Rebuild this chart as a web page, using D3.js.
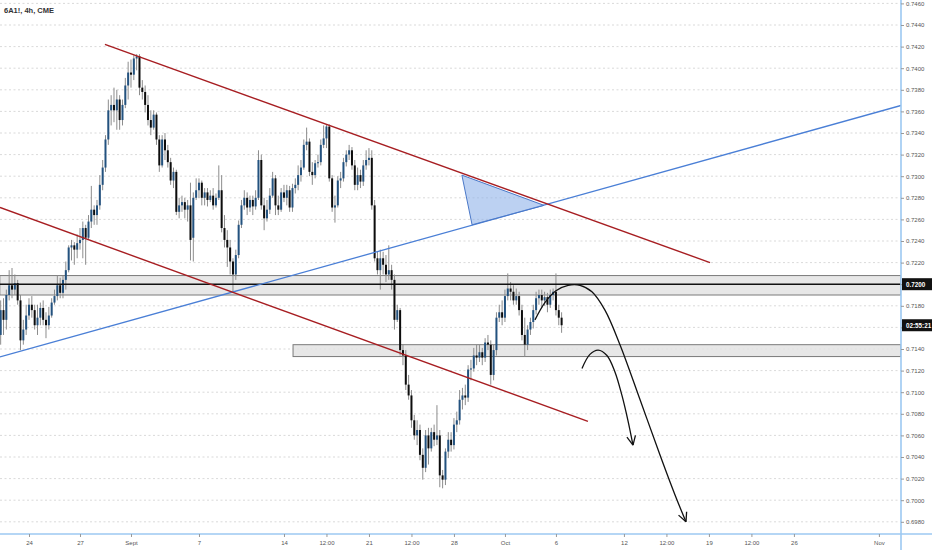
<!DOCTYPE html>
<html><head><meta charset="utf-8">
<script src="https://cdn.jsdelivr.net/npm/d3@7/dist/d3.min.js"></script>
<style>html,body{margin:0;padding:0;background:#fff;}svg{display:block;font-family:"Liberation Sans",Arial,sans-serif;}</style>
</head><body>
<svg id="c" width="932" height="550"></svg>
<script>
// ---------- DATA (4h candles, bar index 0 = first visible bar) ----------
const open = [.7153,.7176,.7167,.7190,.7199,.7195,.7201,.7185,.7148,.7158,.7171,.7181,.7176,.7162,.7169,.7178,.7167,.7162,.7171,.7183,
.7189,.7199,.7192,.7204,.7213,.7234,.7236,.7232,.7238,.7241,.7252,.7243,.7258,.7269,.7264,.7273,.7292,.7308,.7334,.7361,
.7366,.7361,.7371,.7352,.7366,.7384,.7396,.7394,.7409,.7411,.7382,.7378,.7366,.7352,.7345,.7357,.7334,.7310,.7334,.7324,
.7313,.7296,.7304,.7267,.7273,.7276,.7269,.7273,.7243,.7280,.7287,.7294,.7280,.7285,.7278,.7282,.7273,.7280,.7287,.7252,
.7241,.7234,.7221,.7209,.7227,.7255,.7273,.7280,.7271,.7278,.7272,.7280,.7315,.7273,.7261,.7269,.7282,.7298,.7273,.7269,
.7285,.7280,.7287,.7271,.7289,.7292,.7301,.7308,.7329,.7332,.7304,.7301,.7312,.7313,.7329,.7335,.7346,.7298,.7271,.7273,
.7296,.7298,.7313,.7320,.7324,.7310,.7292,.7301,.7295,.7310,.7315,.7317,.7273,.7224,.7213,.7224,.7218,.7209,.7213,.7204,
.7167,.7176,.7139,.7134,.7107,.7097,.7074,.7060,.7065,.7042,.7030,.7060,.7048,.7063,.7056,.7060,.7023,.7019,.7045,.7056,
.7051,.7070,.7074,.7093,.7097,.7095,.7121,.7122,.7134,.7132,.7137,.7132,.7146,.7144,.7116,.7139,.7169,.7174,.7169,.7189,
.7196,.7193,.7185,.7189,.7176,.7153,.7144,.7158,.7165,.7176,.7187,.7190,.7185,.7188,.7181,.7190,.7193,.7176,.7169];
const close = [.7176,.7167,.7190,.7199,.7195,.7201,.7185,.7148,.7158,.7171,.7181,.7176,.7162,.7169,.7178,.7167,.7162,.7171,.7183,.7189,
.7199,.7192,.7204,.7213,.7234,.7236,.7232,.7238,.7241,.7252,.7243,.7258,.7269,.7264,.7273,.7292,.7308,.7334,.7361,.7366,
.7361,.7371,.7352,.7366,.7384,.7396,.7394,.7409,.7411,.7382,.7378,.7366,.7352,.7345,.7357,.7334,.7310,.7334,.7324,.7313,
.7296,.7304,.7267,.7273,.7276,.7269,.7273,.7241,.7280,.7287,.7294,.7280,.7285,.7278,.7282,.7273,.7280,.7287,.7252,.7241,
.7234,.7221,.7209,.7227,.7255,.7273,.7280,.7271,.7278,.7272,.7280,.7315,.7273,.7261,.7269,.7282,.7298,.7273,.7269,.7285,
.7280,.7287,.7271,.7289,.7292,.7301,.7308,.7329,.7332,.7304,.7301,.7312,.7313,.7329,.7335,.7346,.7298,.7271,.7273,.7296,
.7298,.7313,.7320,.7324,.7310,.7292,.7301,.7295,.7310,.7315,.7317,.7273,.7224,.7213,.7224,.7218,.7209,.7213,.7204,.7167,
.7176,.7139,.7134,.7107,.7097,.7074,.7060,.7065,.7042,.7030,.7060,.7048,.7063,.7056,.7060,.7023,.7019,.7045,.7056,.7051,
.7070,.7074,.7093,.7097,.7095,.7121,.7122,.7134,.7132,.7137,.7132,.7146,.7144,.7116,.7139,.7169,.7174,.7169,.7189,.7196,
.7193,.7185,.7189,.7176,.7153,.7144,.7158,.7165,.7176,.7187,.7190,.7185,.7188,.7181,.7190,.7193,.7176,.7169,.7162];
const high = [.7185,.7187,.7195,.7213,.7215,.7209,.7204,.7190,.7167,.7181,.7187,.7189,.7181,.7181,.7183,.7185,.7174,.7179,.7187,.7195,
.7208,.7206,.7208,.7221,.7236,.7241,.7239,.7246,.7252,.7258,.7255,.7264,.7291,.7273,.7278,.7301,.7315,.7338,.7371,.7375,
.7382,.7380,.7375,.7371,.7391,.7406,.7408,.7412,.7413,.7413,.7389,.7384,.7375,.7361,.7361,.7359,.7338,.7338,.7340,.7329,
.7317,.7308,.7306,.7280,.7282,.7280,.7278,.7294,.7285,.7298,.7298,.7296,.7289,.7289,.7287,.7289,.7284,.7310,.7301,.7264,
.7250,.7241,.7224,.7232,.7259,.7278,.7287,.7285,.7282,.7282,.7287,.7324,.7320,.7280,.7278,.7289,.7304,.7301,.7282,.7289,
.7292,.7292,.7291,.7293,.7298,.7310,.7315,.7334,.7345,.7335,.7313,.7315,.7320,.7334,.7347,.7348,.7348,.7301,.7282,.7300,
.7304,.7317,.7324,.7329,.7327,.7315,.7308,.7306,.7315,.7324,.7326,.7324,.7278,.7230,.7232,.7230,.7227,.7236,.7218,.7209,
.7181,.7178,.7144,.7139,.7116,.7102,.7079,.7074,.7070,.7048,.7065,.7067,.7067,.7070,.7088,.7065,.7028,.7048,.7063,.7063,
.7076,.7082,.7102,.7104,.7107,.7125,.7130,.7141,.7144,.7144,.7141,.7150,.7153,.7148,.7144,.7174,.7181,.7185,.7195,.7210,
.7202,.7199,.7196,.7193,.7181,.7169,.7162,.7169,.7181,.7193,.7195,.7195,.7193,.7192,.7195,.7196,.7210,.7181,.7174];
const low = [.7144,.7153,.7158,.7185,.7187,.7190,.7181,.7139,.7144,.7153,.7167,.7169,.7158,.7153,.7162,.7162,.7150,.7158,.7169,.7181,
.7185,.7187,.7187,.7195,.7211,.7222,.7218,.7224,.7232,.7224,.7218,.7241,.7252,.7255,.7255,.7269,.7287,.7304,.7329,.7347,
.7350,.7343,.7343,.7347,.7363,.7371,.7382,.7389,.7398,.7375,.7371,.7359,.7347,.7338,.7343,.7329,.7304,.7308,.7315,.7308,
.7292,.7289,.7264,.7261,.7267,.7261,.7258,.7222,.7221,.7278,.7280,.7273,.7273,.7272,.7276,.7269,.7271,.7278,.7248,.7234,
.7216,.7209,.7192,.7204,.7224,.7252,.7269,.7264,.7267,.7264,.7269,.7278,.7269,.7250,.7258,.7265,.7280,.7264,.7264,.7267,
.7276,.7273,.7267,.7267,.7284,.7287,.7295,.7306,.7324,.7300,.7292,.7298,.7308,.7310,.7326,.7326,.7295,.7267,.7257,.7271,
.7289,.7295,.7309,.7315,.7306,.7287,.7287,.7289,.7291,.7306,.7310,.7269,.7221,.7209,.7195,.7209,.7202,.7204,.7195,.7158,
.7165,.7134,.7125,.7102,.7093,.7067,.7056,.7051,.7037,.7019,.7026,.7033,.7045,.7050,.7051,.7012,.7011,.7014,.7039,.7045,
.7047,.7063,.7070,.7084,.7088,.7091,.7111,.7119,.7125,.7128,.7125,.7128,.7139,.7107,.7111,.7134,.7165,.7162,.7165,.7185,
.7185,.7181,.7181,.7171,.7148,.7133,.7139,.7153,.7159,.7172,.7181,.7178,.7180,.7174,.7178,.7185,.7171,.7162,.7155];

// axis ticks
const priceTicks = [0.6980,0.7000,0.7020,0.7040,0.7060,0.7080,0.7100,0.7120,0.7140,0.7160,0.7180,0.7200,0.7220,0.7240,0.7260,0.7280,0.7300,0.7320,0.7340,0.7360,0.7380,0.7400,0.7420,0.7440,0.7460];
const timeTickBars = [10,28,46,70,100,115,130,145,160,178,196,220,235,250,265,280,310];
const timeTickLabels = ["24","27","Sept","7","14","12:00","21","12:00","28","Oct","6","12","12:00","19","12:00","26","Nov"];

// drawings: [bar, price]
const resistanceLine = [[36.8,0.7422],[250.4,0.7220]];
const channelLowLine = [[-0.24,0.7271],[207.3,0.7073]];
const supportLine = [[-0.24,0.71326],[317.8,0.73655]];
const wedgeTriangle = [[162.8,0.7301],[166.4,0.7255],[191.8,0.7273]];
const zoneUpper = {bar0:-0.3, top:0.7208, bottom:0.7190};
const zoneLower = {bar0:103.2, top:0.7144, bottom:0.7133};
const keyLevel = 0.7200;
const pathBig = [[188.6,0.7167],[192.1,0.7183],[196.0,0.7194],[200.3,0.7199],[204.5,0.7199],[208.7,0.7193],[213.3,0.7176],[218.6,0.7144],[225.7,0.7093],[232.7,0.7042],[238.0,0.7005],[241.9,0.6980]];
const pathSmall = [[205.2,0.7122],[208.0,0.7135],[210.9,0.7139],[214.0,0.7134],[216.8,0.7119],[219.3,0.7097],[221.4,0.7074],[223.2,0.7051]];
const title = "6A1!, 4h, CME";
const countdown = "02:55:21";

// ---------- CHART ----------
const W = 932, H = 550, plotR = 901, plotB = 534;
const svg = d3.select("#c");
svg.append("rect").attr("width",W).attr("height",H).attr("fill","#fff");

const x = d3.scaleLinear().domain([-0.236, 317.8]).range([0, plotR]);
const y = d3.scaleLinear().domain([0.6980, 0.7460]).range([521.8, 3.4]);

svg.append("defs").append("clipPath").attr("id","plot")
  .append("rect").attr("x",0).attr("y",0).attr("width",plotR).attr("height",plotB);

// gridlines
svg.append("g").selectAll("line").data(priceTicks).join("line")
  .attr("x1",0).attr("x2",plotR).attr("y1",d=>y(d)).attr("y2",d=>y(d))
  .attr("stroke","#cfcfcf").attr("stroke-width",0.8).attr("stroke-dasharray","2,2.5");

const g = svg.append("g").attr("clip-path","url(#plot)");

// zones
[zoneUpper, zoneLower].forEach(z=>{
  g.append("rect").attr("x",x(z.bar0)).attr("y",y(z.top))
    .attr("width",plotR - x(z.bar0)).attr("height",y(z.bottom)-y(z.top))
    .attr("fill","#e3e3e3").attr("fill-opacity",0.85).attr("stroke","#7a7a7a").attr("stroke-width",1);
});

// candles
const idx = d3.range(close.length);
const bw = 2.0;
g.append("g").selectAll("line").data(idx).join("line")
  .attr("x1",i=>x(i)).attr("x2",i=>x(i))
  .attr("y1",i=>y(Math.max(high[i],open[i],close[i]))).attr("y2",i=>y(Math.min(low[i],open[i],close[i])))
  .attr("stroke","#8c8c8c").attr("stroke-width",1);
g.append("g").selectAll("rect").data(idx).join("rect")
  .attr("x",i=>x(i)-bw/2).attr("width",bw)
  .attr("y",i=>y(Math.max(open[i],close[i])))
  .attr("height",i=>Math.max(1,Math.abs(y(open[i])-y(close[i]))))
  .attr("fill",i=>close[i]>=open[i]?"#23527f":"#0d0d0d");

// key level line
g.append("line").attr("x1",0).attr("x2",plotR).attr("y1",y(keyLevel)).attr("y2",y(keyLevel))
  .attr("stroke","#111").attr("stroke-width",1.6);

// trend lines
const line = d3.line().x(d=>x(d[0])).y(d=>y(d[1]));
g.append("path").attr("d",line(supportLine)).attr("fill","none").attr("stroke","#4a7fd6").attr("stroke-width",1.3);
g.append("path").attr("d",line(wedgeTriangle)+"Z").attr("fill","#8fb3ea").attr("fill-opacity",0.6)
  .attr("stroke","#4a78c8").attr("stroke-width",1);
g.append("path").attr("d",line(resistanceLine)).attr("fill","none").attr("stroke","#a71e22").attr("stroke-width",1.4);
g.append("path").attr("d",line(channelLowLine)).attr("fill","none").attr("stroke","#a71e22").attr("stroke-width",1.4);

// projection arrows
const curve = d3.line().x(d=>x(d[0])).y(d=>y(d[1])).curve(d3.curveCatmullRom.alpha(0.5));
[pathBig, pathSmall].forEach(p=>{
  g.append("path").attr("d",curve(p)).attr("fill","none").attr("stroke","#111").attr("stroke-width",1.3);
  const a = p[p.length-2], b = p[p.length-1];
  const ax = x(a[0]), ay = y(a[1]), bx = x(b[0]), by = y(b[1]);
  const ang = Math.atan2(by-ay, bx-ax), L = 10, spread = 0.45;
  [ang+Math.PI-spread, ang+Math.PI+spread].forEach(t=>{
    g.append("line").attr("x1",bx).attr("y1",by)
      .attr("x2",bx+L*Math.cos(t)).attr("y2",by+L*Math.sin(t))
      .attr("stroke","#111").attr("stroke-width",1.3);
  });
});

// axes
const tagValues = [keyLevel, close[close.length-1]];
const yAxis = svg.append("g").attr("transform",`translate(${plotR},0)`)
  .call(d3.axisRight(y).tickValues(priceTicks).tickFormat(d3.format(".4f")).tickSize(3).tickPadding(2));
const xAxis = svg.append("g").attr("transform",`translate(0,${plotB})`)
  .call(d3.axisBottom(x).tickValues(timeTickBars).tickFormat((d,i)=>timeTickLabels[i]).tickSize(3).tickPadding(4));
[yAxis,xAxis].forEach(a=>{
  a.select(".domain").attr("stroke","#9cc8f2").attr("stroke-width",1.6);
  a.selectAll(".tick line").attr("stroke","#999");
  a.selectAll(".tick text").attr("fill","#555").attr("font-size","6px");
});
// hide price labels hidden behind the tags
yAxis.selectAll(".tick").filter(d=>tagValues.some(v=>Math.abs(y(d)-y(v))<9)).select("text").remove();
xAxis.select(".domain").attr("d",`M0,0H${W}`);
yAxis.select(".domain").attr("d",`M0,0V${H}`);

// price labels
function tag(v, txt){
  const yy = y(v);
  svg.append("rect").attr("x",plotR+1).attr("y",yy-6).attr("width",W-plotR-1).attr("height",12).attr("fill","#111");
  svg.append("text").attr("x",plotR+5).attr("y",yy+2.3).attr("fill","#fff")
    .attr("font-size","6.3px").attr("font-weight","bold").text(txt);
}
tag(keyLevel, d3.format(".4f")(keyLevel));
tag(close[close.length-1], countdown);

// title
svg.append("text").attr("x",4).attr("y",12.5).attr("fill","#333").attr("font-size","7.5px")
  .attr("font-weight","bold").text(title);
</script>
</body></html>
